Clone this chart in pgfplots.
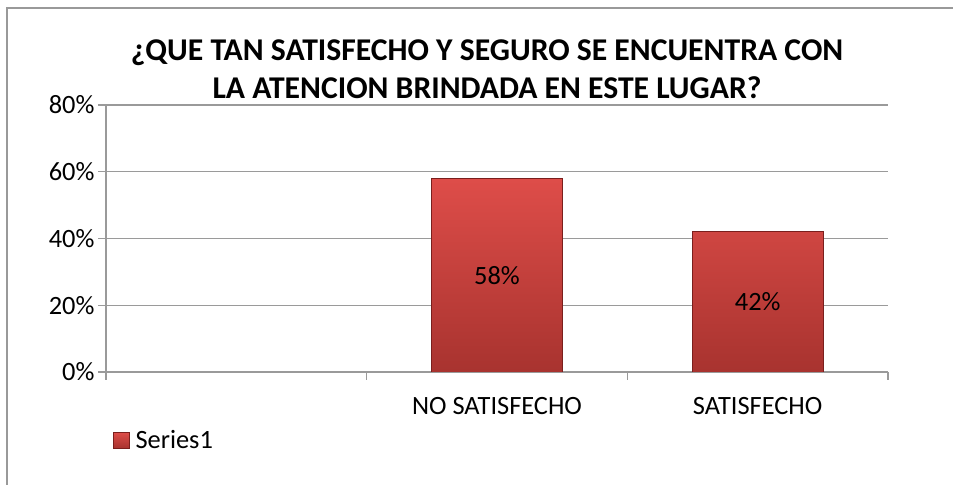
\documentclass[border=0pt]{standalone}
\usepackage{fontspec}
\setmainfont{Carlito}
\usepackage{pgfplots}
\pgfplotsset{compat=1.18}

\definecolor{bartop}{HTML}{DE4D49}
\definecolor{barbot}{HTML}{A8332F}
\definecolor{baredge}{HTML}{7A1F1D}
\definecolor{gridgray}{HTML}{9A9A9A}
\definecolor{framegray}{HTML}{999999}

\begin{document}
\begin{tikzpicture}[x=1bp,y=1bp]
  \useasboundingbox (0,0) rectangle (953,485);
  % outer chart frame (cut at right and bottom)
  \draw[framegray, line width=2bp] (7,0) -- (7,477) -- (953,477);
  \node[font=\fontsize{31.8}{38}\selectfont\bfseries, align=center] at (487,416)
    {¿QUE TAN SATISFECHO Y SEGURO SE ENCUENTRA CON\\LA ATENCION BRINDADA EN ESTE LUGAR?};

  \begin{axis}[
    at={(106bp,113bp)}, anchor=south west,
    scale only axis, width=782bp, height=267bp,
    xmin=-0.5, xmax=2.5, ymin=0, ymax=80,
    axis x line*=bottom, axis y line*=left,
    axis line style={gridgray, line width=1.3bp, -},
    ytick={0,20,40,60,80},
    yticklabels={0\%,20\%,40\%,60\%,80\%},
    ymajorgrids, grid style={gridgray, line width=1.3bp},
    xtick={-0.5,0.5,1.5,2.5}, xticklabels={},
    extra x ticks={1,2},
    extra x tick labels={NO SATISFECHO,SATISFECHO},
    extra x tick style={major tick length=0pt, tick label style={yshift=-22bp}},
    tick align=outside, major tick length=8bp,
    tick style={gridgray, line width=1.3bp},
    tick label style={font=\fontsize{26.5}{30}\selectfont},
    /pgf/number format/assume math mode=true,
    legend style={at={(axis description cs:0.006,-0.255)}, anchor=west, draw=none,
      fill=none, font=\fontsize{26.5}{30}\selectfont, inner sep=2bp},
    legend image code/.code={
      \draw[baredge, top color=bartop, bottom color=barbot, line width=0.5bp]
        (0bp,-8bp) rectangle (16bp,8bp);
      \path (20bp,0bp);},
  ]
    \addplot[ybar, bar width=0.503, draw=baredge, line width=0.8bp,
      top color=bartop, bottom color=barbot]
      coordinates {(1,58) (2,42)};
    \addlegendentry{Series1}
    % data labels in the middle of each bar
    \addplot[forget plot, only marks, mark=none,
      point meta=explicit symbolic, nodes near coords,
      nodes near coords style={anchor=center, black,
        font=\fontsize{26.5}{30}\selectfont}]
      coordinates {(1,29) [58\%] (2,21) [42\%]};
  \end{axis}
\end{tikzpicture}
\end{document}
